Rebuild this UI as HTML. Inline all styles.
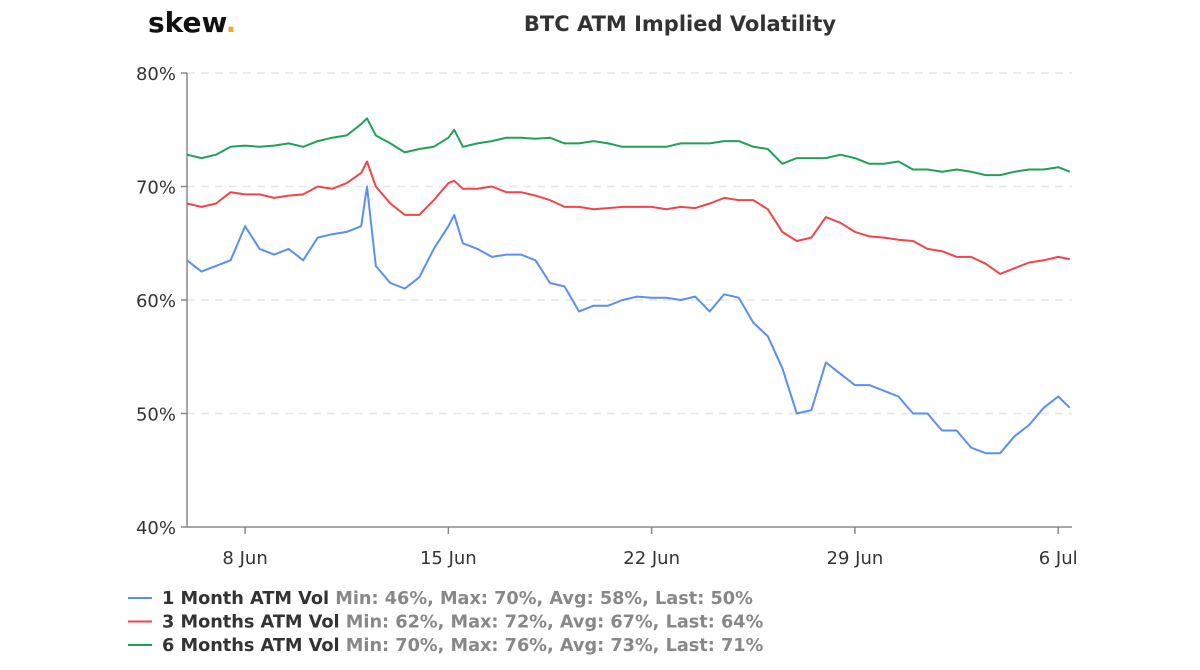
<!DOCTYPE html>
<html><head><meta charset="utf-8"><style>
body{margin:0;background:#fff;width:1200px;height:670px;overflow:hidden;font-family:"DejaVu Sans",sans-serif}
svg{display:block}
</style></head><body>
<svg id="chart" width="1200" height="670" font-family="DejaVu Sans, sans-serif">
<text x="148" y="32" font-size="28" font-weight="bold" fill="#111">skew<tspan fill="#f0a830">.</tspan></text>
<text x="680" y="31" text-anchor="middle" font-size="21" font-weight="bold" fill="#333">BTC ATM Implied Volatility</text>
<g id="grid"></g><g id="axes"></g><g id="series"></g><g id="legend"></g>
</svg>
<script>
const days=[0,0.5,1,1.5,2,2.5,3,3.5,4,4.5,5,5.5,6,6.2,6.5,7,7.5,8,8.5,9,9.2,9.5,10,10.5,11,11.5,12,12.5,13,13.5,14,14.5,15,15.5,16,16.5,17,17.5,18,18.5,19,19.5,20,20.5,21,21.5,22,22.5,23,23.5,24,24.5,25,25.5,26,26.5,27,27.5,28,28.5,29,29.5,30,30.4];
const vol1m=[63.5,62.5,63,63.5,66.5,64.5,64,64.5,63.5,65.5,65.8,66,66.5,70,63,61.5,61,62,64.5,66.5,67.5,65,64.5,63.8,64,64,63.5,61.5,61.2,59,59.5,59.5,60,60.3,60.2,60.2,60,60.3,59,60.5,60.2,58,56.8,54,50,50.3,54.5,53.5,52.5,52.5,52,51.5,50,50,48.5,48.5,47,46.5,46.5,48,49,50.5,51.5,50.5];
const vol3m=[68.5,68.2,68.5,69.5,69.3,69.3,69,69.2,69.3,70,69.8,70.3,71.2,72.2,70,68.5,67.5,67.5,68.8,70.3,70.5,69.8,69.8,70,69.5,69.5,69.2,68.8,68.2,68.2,68,68.1,68.2,68.2,68.2,68,68.2,68.1,68.5,69,68.8,68.8,68,66,65.2,65.5,67.3,66.8,66,65.6,65.5,65.3,65.2,64.5,64.3,63.8,63.8,63.2,62.3,62.8,63.3,63.5,63.8,63.6];
const vol6m=[72.8,72.5,72.8,73.5,73.6,73.5,73.6,73.8,73.5,74,74.3,74.5,75.5,76,74.5,73.8,73,73.3,73.5,74.3,75,73.5,73.8,74,74.3,74.3,74.2,74.3,73.8,73.8,74,73.8,73.5,73.5,73.5,73.5,73.8,73.8,73.8,74,74,73.5,73.3,72,72.5,72.5,72.5,72.8,72.5,72,72,72.2,71.5,71.5,71.3,71.5,71.3,71,71,71.3,71.5,71.5,71.7,71.3];
const yTicks=[40,50,60,70,80];
const yTickLabels=["40%","50%","60%","70%","80%"];
const xTickDays=[2,9,16,23,30];
const xTickLabels=["8 Jun","15 Jun","22 Jun","29 Jun","6 Jul"];
const seriesNames=["1 Month ATM Vol","3 Months ATM Vol","6 Months ATM Vol"];
const seriesStats=["Min: 46%, Max: 70%, Avg: 58%, Last: 50%","Min: 62%, Max: 72%, Avg: 67%, Last: 64%","Min: 70%, Max: 76%, Avg: 73%, Last: 71%"];
const colors=["#5b8ff0","#f0454b","#22a05a"];
const X0=187,X1=1072,Y0=527,Y1=73;
const xs=d=>X0+(d-0)*29.04;
const ys=v=>Y0-(v-40)*(Y0-Y1)/40;
const NS="http://www.w3.org/2000/svg";
function mk(tag,attrs,parent){const e=document.createElementNS(NS,tag);for(const k in attrs)e.setAttribute(k,attrs[k]);parent.appendChild(e);return e;}
const grid=document.getElementById('grid'),axes=document.getElementById('axes'),ser=document.getElementById('series'),leg=document.getElementById('legend');
yTicks.forEach((t,i)=>{
  if(t>40){const g=mk('line',{x1:X0,x2:X1,y1:ys(t),y2:ys(t),stroke:'#e6e6e6','stroke-width':1.5,'stroke-dasharray':'8,6'},grid);
  
  }
  const tk=mk('line',{x1:X0-6,x2:X0,y1:ys(t),y2:ys(t),stroke:'#888','stroke-width':1.5},axes);
  
  
  const tx=mk('text',{x:X0-11,y:ys(t)+7,'text-anchor':'end','font-size':18,fill:'#333'},axes);
  tx.textContent=yTickLabels[i];
  
  
});
const ya=mk('line',{x1:X0,x2:X0,y1:Y1,y2:Y0,stroke:'#888','stroke-width':1.5},axes);


const xa=mk('line',{x1:X0,x2:X1,y1:Y0,y2:Y0,stroke:'#888','stroke-width':1.5},axes);


xTickDays.forEach((d,i)=>{
  const tk=mk('line',{x1:xs(d),x2:xs(d),y1:Y0,y2:Y0+7,stroke:'#888','stroke-width':1.5},axes);
  
  
  const tx=mk('text',{x:xs(d),y:Y0+37,'text-anchor':'middle','font-size':18,fill:'#333'},axes);
  tx.textContent=xTickLabels[i];
  
  
});
[vol1m,vol3m,vol6m].forEach((vals,si)=>{
  const p=mk('polyline',{points:vals.map((v,i)=>xs(days[i]).toFixed(1)+','+ys(v).toFixed(1)).join(' '),fill:'none',stroke:colors[si],'stroke-width':2,'stroke-linejoin':'round'},ser);
  
  
  const y=604+si*23.5;
  const ln=mk('line',{x1:128,x2:152,y1:y-6,y2:y-6,stroke:colors[si],'stroke-width':2},leg);
  
  
  const t=mk('text',{x:162,y:y,'font-size':17.7,'font-weight':'bold',fill:'#333'},leg);
  
  
  const a=mk('tspan',{},t);a.textContent=seriesNames[si]+' ';
  const b=mk('tspan',{fill:'#888'},t);b.textContent=seriesStats[si];
});
</script>
</body></html>
